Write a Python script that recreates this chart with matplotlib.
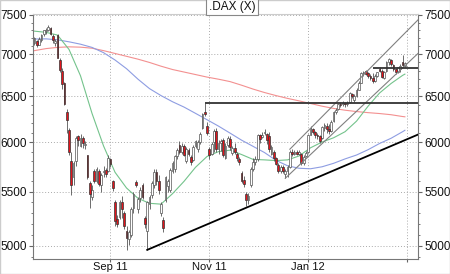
import numpy as np
import pandas as pd
import matplotlib.pyplot as plt
from matplotlib.patches import Rectangle
from matplotlib.ticker import FixedLocator, FixedFormatter, NullFormatter

plt.rcParams["font.family"] = ["Liberation Sans", "DejaVu Sans"]

# trading days (Xetra closed on 26 Dec 2011)
DIAS = [d for d in pd.bdate_range("2011-07-18", "2012-02-29") if d != pd.Timestamp("2011-12-26")]

ABERT = [7140, 7160, 7120, 7180, 7250, 7290, 7300, 7330, 7230, 7140,
         7240, 6930, 6800, 6650, 6320, 6130, 5800, 5640, 5800, 6060,
         5960, 6040, 5970, 5860, 5580, 5450, 5700, 5600, 5700, 5560,
         5690, 5710, 5700, 5820, 5600, 5400, 5240, 5260, 5400, 5300,
         5130, 5060, 5100, 5340, 5590, 5330, 5440, 5560, 5250, 5130,
         5380, 5470, 5560, 5690, 5600, 5300, 5230, 5420, 5550, 5520,
         5700, 5720, 5850, 5970, 5900, 5960, 5800, 5920, 5840, 5810,
         5960, 5930, 6000, 6150, 6320, 6170, 5930, 5880, 6000, 6120,
         5930, 5990, 6020, 5830, 5970, 6030, 5890, 5940, 5880, 5820,
         5680, 5610, 5480, 5420, 5560, 5720, 5790, 5820, 6070, 6050,
         6100, 6090, 6060, 5880, 5900, 5830, 5760, 5700, 5740, 5670,
         5700, 5740, 5900, 5880, 5900, 5880, 5880, 5780, 5850, 5900,
         6080, 6140, 6110, 6080, 6060, 6040, 6150, 6170, 6140, 6120,
         6230, 6320, 6360, 6420, 6410, 6430, 6420, 6440, 6530, 6460,
         6510, 6580, 6660, 6770, 6800, 6770, 6740, 6720, 6680, 6740,
         6820, 6800, 6720, 6800, 6900, 6930, 6870, 6820, 6790, 6820,
         6900, 6860]
MAXIMA = [7215, 7175, 7210, 7250, 7310, 7330, 7370, 7340, 7250, 7190,
          7260, 6950, 6830, 6670, 6360, 6150, 5900, 5800, 6060, 6080,
          6090, 6060, 6010, 5870, 5600, 5560, 5720, 5740, 5720, 5680,
          5750, 5730, 5860, 5830, 5610, 5420, 5280, 5420, 5460, 5320,
          5180, 5140, 5350, 5500, 5610, 5450, 5540, 5580, 5270, 5410,
          5470, 5600, 5720, 5720, 5660, 5400, 5260, 5650, 5620, 5730,
          5800, 5860, 5940, 6010, 5990, 5980, 5950, 5940, 5860, 5970,
          6020, 6020, 6110, 6310, 6430, 6210, 5950, 6000, 6140, 6150,
          6020, 6030, 6040, 5990, 6060, 6060, 5960, 5990, 5900, 5840,
          5700, 5650, 5500, 5490, 5740, 5830, 5850, 6090, 6090, 6110,
          6140, 6100, 6110, 5970, 5920, 5840, 5780, 5760, 5760, 5720,
          5760, 5920, 5930, 5920, 5920, 5920, 5890, 5860, 5910, 6090,
          6170, 6150, 6120, 6100, 6070, 6170, 6200, 6200, 6190, 6240,
          6340, 6370, 6420, 6440, 6450, 6440, 6450, 6550, 6540, 6530,
          6600, 6680, 6790, 6800, 6810, 6790, 6760, 6770, 6760, 6790,
          6840, 6820, 6800, 6920, 6950, 6940, 6880, 6830, 6850, 6880,
          6990, 6910]
MINIMA = [7120, 7090, 7110, 7150, 7230, 7260, 7290, 7240, 7140, 7100,
          6950, 6790, 6590, 6400, 6100, 5870, 5470, 5560, 5750, 5960,
          5950, 5940, 5930, 5620, 5340, 5420, 5580, 5580, 5550, 5500,
          5640, 5640, 5690, 5740, 5510, 5180, 5170, 5240, 5250, 5150,
          4965, 5010, 5080, 5300, 5540, 5300, 5400, 5430, 5160, 4965,
          5330, 5440, 5530, 5560, 5480, 5270, 5120, 5400, 5500, 5500,
          5680, 5690, 5820, 5880, 5880, 5850, 5780, 5850, 5760, 5800,
          5940, 5900, 5980, 6140, 6280, 6080, 5820, 5860, 5900, 5900,
          5880, 5910, 5840, 5820, 5950, 5920, 5860, 5880, 5800, 5760,
          5580, 5540, 5360, 5380, 5540, 5700, 5760, 5800, 5990, 6040,
          6070, 5980, 5900, 5860, 5800, 5760, 5680, 5680, 5680, 5630,
          5640, 5730, 5850, 5860, 5860, 5860, 5760, 5760, 5840, 5890,
          6070, 6090, 6040, 6030, 5990, 6030, 6120, 6100, 6090, 6110,
          6220, 6300, 6350, 6380, 6390, 6380, 6390, 6430, 6480, 6440,
          6490, 6570, 6650, 6740, 6750, 6720, 6690, 6650, 6670, 6730,
          6780, 6710, 6700, 6790, 6870, 6860, 6800, 6760, 6770, 6780,
          6840, 6840]
FECHOS = [7200, 7110, 7190, 7240, 7300, 7310, 7345, 7260, 7180, 7170,
          6960, 6810, 6640, 6420, 6240, 5900, 5560, 5780, 6040, 6020,
          6040, 5990, 5980, 5640, 5480, 5520, 5600, 5720, 5570, 5660,
          5700, 5670, 5830, 5770, 5530, 5220, 5200, 5400, 5330, 5180,
          5070, 5120, 5330, 5480, 5560, 5430, 5520, 5450, 5200, 5400,
          5450, 5580, 5690, 5600, 5520, 5380, 5160, 5640, 5600, 5710,
          5780, 5850, 5920, 5900, 5960, 5870, 5930, 5880, 5790, 5950,
          6010, 6000, 6090, 6300, 6300, 6100, 5860, 5980, 6120, 5930,
          5990, 6010, 5860, 5960, 6040, 5950, 5940, 5900, 5830, 5790,
          5600, 5570, 5420, 5460, 5720, 5790, 5820, 6070, 6030, 6080,
          6110, 6020, 5930, 5950, 5830, 5770, 5700, 5740, 5700, 5700,
          5740, 5900, 5880, 5900, 5880, 5900, 5780, 5840, 5890, 6070,
          6150, 6110, 6080, 6060, 6010, 6160, 6180, 6140, 6120, 6220,
          6330, 6350, 6410, 6400, 6430, 6420, 6430, 6540, 6500, 6510,
          6580, 6660, 6770, 6780, 6760, 6740, 6710, 6680, 6740, 6780,
          6800, 6730, 6780, 6900, 6940, 6880, 6820, 6790, 6840, 6860,
          6870, 6890]

# moving averages read every 5th trading day (plus the last one)
MA_PASSO = 5
MA_VERDE = [7290, 7275, 7240, 7060, 6740, 6310, 5960, 5690, 5535, 5435,
            5388, 5380, 5480, 5600, 5740, 5850, 5900, 5915, 5870, 5820,
            5815, 5808, 5815, 5855, 5940, 6000, 6045, 6110, 6225, 6390,
            6540, 6650, 6745, 6760]
MA_AZUL = [7190, 7192, 7180, 7155, 7125, 7085, 7020, 6930, 6825, 6700,
           6590, 6510, 6440, 6380, 6310, 6240, 6170, 6095, 6020, 5955,
           5890, 5810, 5755, 5730, 5725, 5745, 5780, 5825, 5865, 5920,
           5985, 6040, 6110, 6125]
MA_VERMELHO = [7045, 7070, 7085, 7092, 7088, 7075, 7045, 7010, 6975, 6940,
               6900, 6855, 6815, 6785, 6755, 6725, 6700, 6672, 6630, 6585,
               6545, 6510, 6478, 6450, 6420, 6390, 6365, 6345, 6330, 6318,
               6308, 6295, 6275, 6272]

# trend lines: (start day, value, anchor day, value)
SUPORTE = ("2011-09-23", 4965, "2012-02-29", 6020)
CANAL_SUP = ("2011-12-20", 5925, "2012-02-29", 7265)
CANAL_INF = ("2011-12-16", 5630, "2012-02-29", 6860)
RESIST = [("2011-10-28", 6425), ("2012-02-09", 6835)]

Y_TICKS = [5000, 5500, 6000, 6500, 7000, 7500]
MESES = ["2011-09-01", "2011-11-01", "2012-01-01", "2012-03-01"]
ROT_MESES = ["Sep 11", "Nov 11", "Jan 12", ""]

XLIM = (-0.65, 166.7)
YLIM = (4886, 7513)

pos = {d.strftime("%Y-%m-%d"): i for i, d in enumerate(DIAS)}


def tendencia(ax, linha, **kw):
    d0, v0, d1, v1 = linha
    i0, i1 = pos[d0], pos[d1]
    k = (np.log(v1) - np.log(v0)) / (i1 - i0)
    xs = np.array([i0, XLIM[1]])
    ax.plot(xs, v0 * np.exp(k * (xs - i0)), **kw)


fig = plt.figure(figsize=(4.5, 2.74), dpi=100)
ax = fig.add_axes([33 / 450, 15 / 274, 385 / 450, 245 / 274])
ax.set_yscale("log")

x = np.arange(len(DIAS))
o, h, l, c = (np.array(a, dtype=float) for a in (ABERT, MAXIMA, MINIMA, FECHOS))
sobe = c >= o
ax.vlines(x, l, h, color="#555555", lw=0.6, zorder=3)
ax.bar(x[sobe], (c - o)[sobe], bottom=o[sobe], width=0.75, color="white",
       edgecolor="#555555", lw=0.5, zorder=4)
ax.bar(x[~sobe], (o - c)[~sobe], bottom=c[~sobe], width=0.75, color="#e3141c",
       edgecolor="#333333", lw=0.5, zorder=4)

ma_x = list(range(0, len(DIAS), MA_PASSO)) + [len(DIAS) - 1]
ax.plot(ma_x, MA_VERMELHO, color="#f39090", lw=0.8, zorder=2)
ax.plot(ma_x, MA_AZUL, color="#8e9de2", lw=0.8, zorder=2)
ax.plot(ma_x, MA_VERDE, color="#74c38c", lw=0.8, zorder=2)

tendencia(ax, SUPORTE, color="black", lw=1.3, zorder=5)
tendencia(ax, CANAL_SUP, color="#808080", lw=0.8, zorder=5)
tendencia(ax, CANAL_INF, color="#808080", lw=0.8, zorder=5)
for d, v in RESIST:
    ax.hlines(v, pos[d], XLIM[1], color="#333333", lw=1.3, zorder=5)

ax.set_xlim(*XLIM)
ax.set_ylim(*YLIM)

ax.yaxis.set_major_locator(FixedLocator(Y_TICKS))
ax.yaxis.set_major_formatter(FixedFormatter([str(v) for v in Y_TICKS]))
ax.yaxis.set_minor_locator(FixedLocator(range(4900, 7600, 100)))
ax.yaxis.set_minor_formatter(NullFormatter())
ax.tick_params(axis="y", which="both", left=True, right=True, labelleft=True,
               labelright=True, direction="out", color="#666666", labelcolor="#111111",
               labelsize=8.5)
ax.tick_params(axis="y", which="major", length=3, pad=1.5)
ax.tick_params(axis="y", which="minor", length=1.5)

tick_x = np.searchsorted(np.array(DIAS, dtype="datetime64[ns]"),
                         np.array(MESES, dtype="datetime64[ns]"))
ax.set_xticks(tick_x, ROT_MESES)
ax.tick_params(axis="x", direction="out", length=2, pad=0.5, color="#666666",
               labelcolor="#111111", labelsize=8)

ax.grid(which="major", ls=(0, (1, 2)), color="#aaaaaa", lw=0.7)
ax.set_axisbelow(True)
for s in ("left", "bottom", "right"):
    ax.spines[s].set_color("#777777")
    ax.spines[s].set_linewidth(0.8)
ax.spines["top"].set_color("#cccccc")

fig.text(232 / 450, 1 - 7 / 274, ".DAX (X)", ha="center", va="center", fontsize=8.5,
         color="#111111",
         bbox=dict(boxstyle="square,pad=0.2", fc="white", ec="#888888", lw=0.8))
fig.patches.append(Rectangle((0, 0), 1, 1, transform=fig.transFigure, fill=False,
                             ec="#cccccc", lw=1.0))

fig.savefig("out.png", dpi=100)
plt.close(fig)
